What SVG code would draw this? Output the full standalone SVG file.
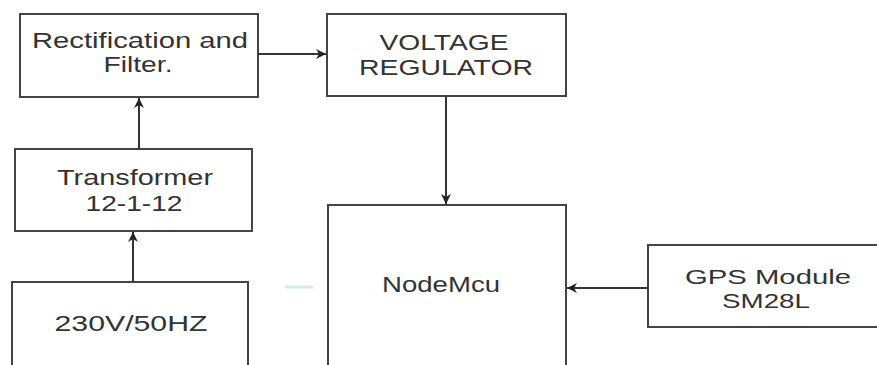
<svg xmlns="http://www.w3.org/2000/svg" width="877" height="365" viewBox="0 0 877 365">
<style>
.box{fill:#fff;stroke:#444;stroke-width:2}
.t{font-family:"Liberation Sans",Arial,sans-serif;font-size:22px;fill:#333;text-anchor:middle}
.s{font-size:20px}
.c{stroke:#333;stroke-width:2;fill:none}
</style>
<defs>
<marker id="ah" viewBox="0 0 10 10" refX="10" refY="5" markerWidth="11" markerHeight="10" markerUnits="userSpaceOnUse" orient="auto">
<path d="M0,0 L10,5 L0,10 L3,5 z" fill="#222"/>
</marker>
</defs>
<rect width="877" height="365" fill="#fff"/>
<g id="rectification">
<rect class="box" x="20" y="14" width="238" height="83"/>
<text class="t" x="140" y="48" textLength="216" lengthAdjust="spacingAndGlyphs">Rectification and</text>
<text class="t" x="138" y="72" textLength="69" lengthAdjust="spacingAndGlyphs">Filter.</text>
</g>
<g id="regulator">
<rect class="box" x="327" y="14" width="239" height="82"/>
<text class="t" x="444" y="50" textLength="129" lengthAdjust="spacingAndGlyphs">VOLTAGE</text>
<text class="t" x="446" y="75" textLength="174" lengthAdjust="spacingAndGlyphs">REGULATOR</text>
</g>
<g id="transformer">
<rect class="box" x="15" y="149" width="237" height="82"/>
<text class="t" x="135" y="185" textLength="156" lengthAdjust="spacingAndGlyphs">Transformer</text>
<text class="t" x="134" y="211" textLength="97" lengthAdjust="spacingAndGlyphs">12-1-12</text>
</g>
<g id="mains">
<rect class="box" x="12" y="282" width="236" height="120"/>
<text class="t" x="131" y="331" textLength="153" lengthAdjust="spacingAndGlyphs">230V/50HZ</text>
</g>
<g id="nodemcu">
<rect class="box" x="328" y="205" width="238" height="200"/>
<text class="t" x="441" y="292" textLength="118" lengthAdjust="spacingAndGlyphs">NodeMcu</text>
</g>
<g id="gps">
<rect class="box" x="648" y="245" width="232" height="82"/>
<text class="t s" x="768" y="284" textLength="166" lengthAdjust="spacingAndGlyphs">GPS Module</text>
<text class="t s" x="766" y="308" textLength="88" lengthAdjust="spacingAndGlyphs">SM28L</text>
</g>
<g id="connectors">
<line class="c" x1="258" y1="54" x2="326" y2="54" marker-end="url(#ah)"/>
<line class="c" x1="446" y1="96" x2="446" y2="204" marker-end="url(#ah)"/>
<line class="c" x1="139" y1="149" x2="139" y2="98" marker-end="url(#ah)"/>
<line class="c" x1="133" y1="282" x2="133" y2="232" marker-end="url(#ah)"/>
<line class="c" x1="648" y1="288" x2="567" y2="288" stroke="#556" marker-end="url(#ah)"/>
<line x1="285" y1="287" x2="313" y2="287" stroke="#d4e9ef" stroke-width="3"/>
</g>
</svg>
